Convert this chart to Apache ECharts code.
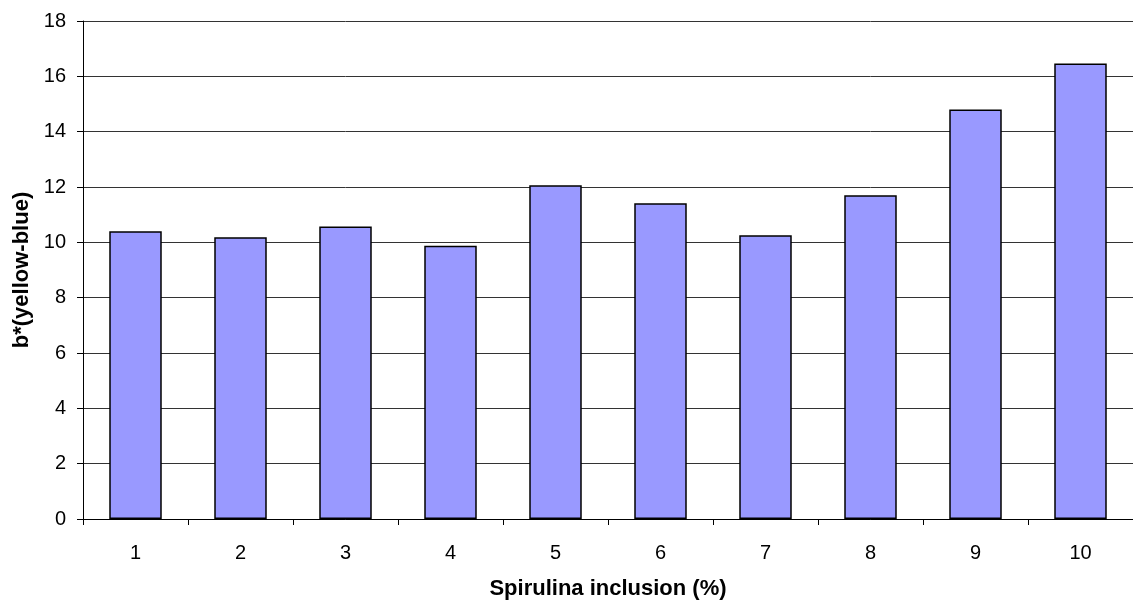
<!DOCTYPE html>
<html>
<head>
<meta charset="utf-8">
<script src="https://cdn.jsdelivr.net/npm/echarts@6/dist/echarts.min.js"></script>
<style>html,body{margin:0;padding:0;background:#fff;}#c{width:1133px;height:609px;}</style>
</head>
<body>
<div id="c"></div>
<script>
const categories = ['1','2','3','4','5','6','7','8','9','10'];
const values = [10.40, 10.18, 10.57, 9.88, 12.06, 11.41, 10.26, 11.70, 14.80, 16.46];
const xAxisTitle = 'Spirulina inclusion (%)';
const yAxisTitle = 'b*(yellow-blue)';

const chart = echarts.init(document.getElementById('c'), null, {renderer: 'canvas'});
const font = 'Liberation Sans, Arial, sans-serif';
chart.setOption({
  animation: false,
  backgroundColor: '#fff',
  grid: {left: 83, top: 21, width: 1052, height: 498, containLabel: false},
  xAxis: {
    type: 'category',
    data: categories,
    boundaryGap: true,
    name: xAxisTitle,
    nameLocation: 'middle',
    nameGap: 59,
    nameTextStyle: {fontFamily: font, fontSize: 22, fontWeight: 'bold', color: '#000'},
    axisLine: {lineStyle: {color: '#000', width: 1}},
    axisTick: {show: true, length: 6, lineStyle: {color: '#000'}},
    axisLabel: {fontFamily: font, fontSize: 20, color: '#000', margin: 24}
  },
  yAxis: {
    type: 'value',
    min: 0, max: 18, interval: 2,
    name: yAxisTitle,
    nameLocation: 'middle',
    nameGap: 50,
    nameRotate: 90,
    nameTextStyle: {fontFamily: font, fontSize: 22, fontWeight: 'bold', color: '#000'},
    axisLine: {show: true, lineStyle: {color: '#000', width: 1}},
    axisTick: {show: true, length: 6, lineStyle: {color: '#000'}},
    axisLabel: {fontFamily: font, fontSize: 20, color: '#000', margin: 17},
    splitLine: {show: true, lineStyle: {color: '#333', width: 1}}
  },
  series: [{
    type: 'bar',
    data: values,
    barWidth: '50%',
    itemStyle: {color: '#9999FF', borderColor: '#000', borderWidth: 1.5}
  }]
});
</script>
</body>
</html>
